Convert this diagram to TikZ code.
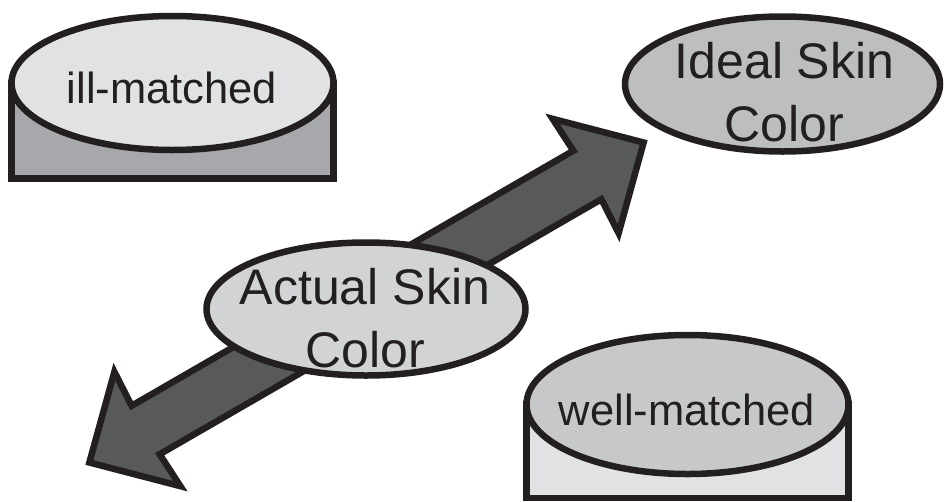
\documentclass[tikz,border=0pt]{standalone}
\usepackage{fontspec}
\setmainfont{Liberation Sans}
\usetikzlibrary{shapes.geometric}
\definecolor{outl}{HTML}{231F20}
\definecolor{illtop}{HTML}{E1E2E4}
\definecolor{illbody}{HTML}{A6A8AB}
\definecolor{idealfill}{HTML}{BCBEC0}
\definecolor{actualfill}{HTML}{D1D3D4}
\definecolor{welltop}{HTML}{C7C8CA}
\definecolor{wellbody}{HTML}{E1E2E3}
\definecolor{arrowfill}{HTML}{58595B}
\begin{document}
\begin{tikzpicture}[x=1pt,y=-1pt,line width=6.5pt,
  blob/.style={ellipse, draw=outl, inner sep=0pt},
  body/.style={draw=outl},
  bigtext/.style={text=outl, align=center, inner sep=0pt, font=\fontsize{50}{63}\selectfont},
  smalltext/.style={text=outl, inner sep=0pt, font=\fontsize{43.5}{50}\selectfont}]
\useasboundingbox (0,0) rectangle (944,501);

% double block arrow
\begin{scope}[shift={(366.5,302.5)}, rotate=30]
  \coordinate (tipA) at (320,0);
  \coordinate (tipB) at (-320,0);
  \draw[draw=outl, fill=arrowfill]
    (tipA) -- (253,66) -- (255,28) -- (-255,28) -- (-253,66) -- (tipB)
    -- (-253,-66) -- (-255,-28) -- (255,-28) -- (253,-66) -- cycle;
\end{scope}

% ill-matched cylinder
\draw[body, fill=illbody] (11.5,83) rectangle (333.5,178.5);
\node[blob, fill=illtop, minimum width=322pt, minimum height=134pt] (ill) at (172.5,83) {};
\node[smalltext] (illtext) at (172,87.5) {ill-matched};

% well-matched cylinder
\draw[body, fill=wellbody] (526.5,404.5) rectangle (848.5,498);
\node[blob, fill=welltop, minimum width=322pt, minimum height=139pt] (well) at (687.5,404.5) {};
\node[smalltext] (welltext) at (687,410) {well-matched};

% ideal skin color
\node[blob, fill=idealfill, minimum width=315pt, minimum height=135pt] (ideal) at (782.5,84) {};
\node[bigtext] (idealtext) at (784.5,92.5) {Ideal Skin\\Color};

% actual skin color
\node[blob, fill=actualfill, minimum width=319pt, minimum height=133pt] (actual) at (366,309) {};
\node[bigtext] (actualtext) at (365,318) {Actual Skin\\Color};
\end{tikzpicture}
\end{document}
